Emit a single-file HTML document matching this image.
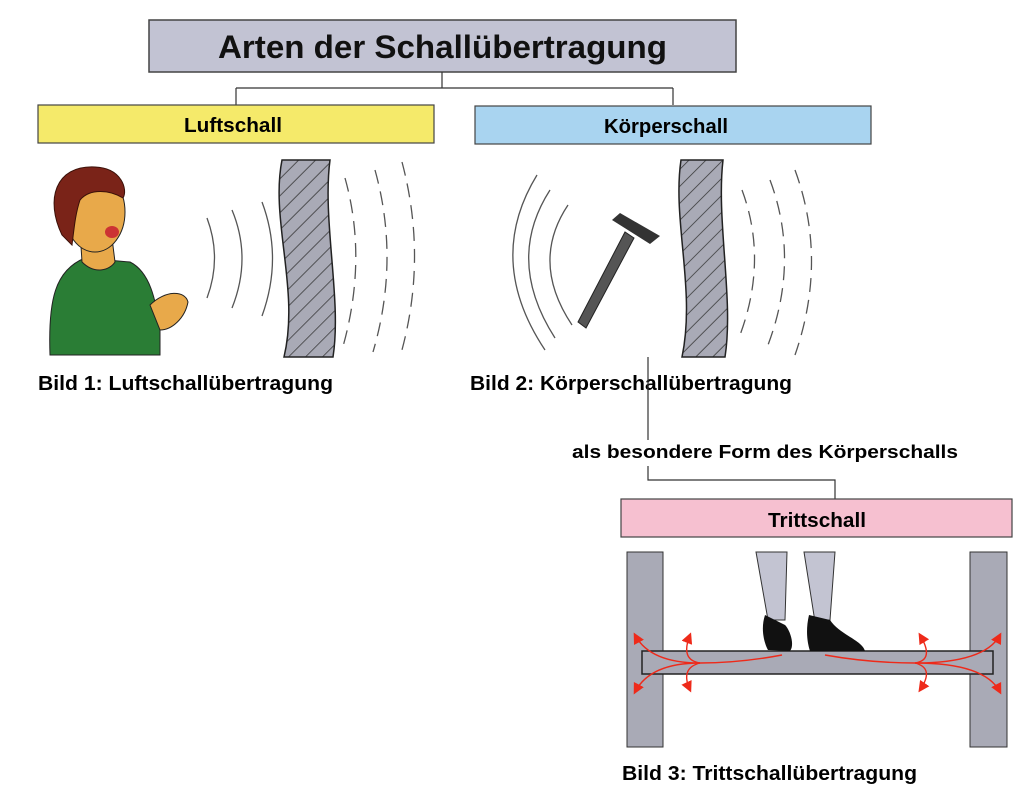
<!DOCTYPE html><html><head><meta charset="utf-8"><style>
body{margin:0;background:#fff}
svg{display:block;font-family:"Liberation Sans",Arial,sans-serif}
</style></head><body>
<svg width="1032" height="791" viewBox="0 0 1032 791" xmlns="http://www.w3.org/2000/svg">
<defs>
<pattern id="h" width="12" height="12" patternUnits="userSpaceOnUse" patternTransform="rotate(-45)">
<rect width="12" height="12" fill="#a9aab6"/><line x1="0" y1="0" x2="12" y2="0" stroke="#333" stroke-width="1.5"/></pattern>
<marker id="ar" markerWidth="8" markerHeight="8" refX="6" refY="4" orient="auto"><path d="M0,0 L8,4 L0,8 Z" fill="#ee2a1a"/></marker>
</defs>
<!-- title -->
<rect x="149" y="20" width="587" height="52" fill="#c2c3d3" stroke="#444" stroke-width="1.5"/>
<text x="218" y="58" font-size="32" font-weight="bold" textLength="449" lengthAdjust="spacingAndGlyphs" fill="#111">Arten der Schallübertragung</text>
<path d="M442,72 V88 M236,88 H673 M236,88 V105 M673,88 V105" stroke="#333" stroke-width="1.2" fill="none"/>
<rect x="38" y="105" width="396" height="38" fill="#f5ea6a" stroke="#444" stroke-width="1.2"/>
<text x="184" y="132" font-size="20" font-weight="bold" textLength="98" lengthAdjust="spacingAndGlyphs">Luftschall</text>
<rect x="475" y="106" width="396" height="38" fill="#a9d4f0" stroke="#444" stroke-width="1.2"/>
<text x="604" y="133" font-size="20" font-weight="bold" textLength="124" lengthAdjust="spacingAndGlyphs">Körperschall</text>

<!-- person -->
<path d="M50,355 C48,300 55,270 85,258 L130,262 C150,272 156,300 160,330 L160,355 Z" fill="#2a7d35" stroke="#222"/>
<path d="M80,230 L82,262 C95,275 110,270 115,262 L112,238 Z" fill="#e8a94a" stroke="#222"/>
<ellipse cx="95" cy="212" rx="30" ry="40" fill="#e8a94a" stroke="#222"/>
<path d="M62,235 C45,200 55,165 95,167 C122,168 128,190 123,198 C110,190 90,188 80,200 C75,215 74,230 72,245 Z" fill="#7a2318" stroke="#3a1008"/>
<ellipse cx="112" cy="232" rx="7" ry="6" fill="#c33"/>
<path d="M150,305 C165,290 185,290 188,302 C185,318 172,330 160,330 Z" fill="#e8a94a" stroke="#222"/>

<!-- waves 1 -->
<g fill="none" stroke="#555" stroke-width="1.3">
<path d="M207,218 Q222,258 207,298"/><path d="M232,210 Q252,258 232,308"/><path d="M262,202 Q283,258 262,316"/>
<g stroke-dasharray="14,8"><path d="M345,178 Q368,260 342,350"/><path d="M375,170 Q400,260 373,352"/><path d="M402,162 Q428,260 400,357"/></g>
</g>
<path d="M282,160 C270,220 300,290 284,357 L333,357 C342,300 322,220 330,160 Z" fill="url(#h)" stroke="#222" stroke-width="1.5"/>
<text x="38" y="390" font-size="20" font-weight="bold" textLength="295" lengthAdjust="spacingAndGlyphs">Bild 1: Luftschallübertragung</text>

<!-- Bild 2 -->
<g fill="none" stroke="#555" stroke-width="1.3">
<path d="M537,175 Q485,260 545,350"/><path d="M550,190 Q505,260 555,338"/><path d="M568,205 Q530,262 572,325"/>
<g stroke-dasharray="14,8"><path d="M742,190 Q768,260 740,335"/><path d="M770,180 Q800,260 768,345"/><path d="M795,170 Q828,260 795,355"/></g>
</g>
<path d="M681,160 C672,220 696,290 682,357 L725,357 C734,300 716,220 723,160 Z" fill="url(#h)" stroke="#222" stroke-width="1.5"/>
<path d="M586,328 L578,322 L625,232 L634,238 Z" fill="#555" stroke="#222"/>
<path d="M620,213 L612,220 L650,244 L660,236 Z" fill="#333"/>
<text x="470" y="390" font-size="20" font-weight="bold" textLength="322" lengthAdjust="spacingAndGlyphs">Bild 2: Körperschallübertragung</text>
<path d="M648,357 V440 M648,466 V480 H835 V499" stroke="#333" stroke-width="1.2" fill="none"/>
<text x="572" y="458" font-size="18" font-weight="bold" textLength="386" lengthAdjust="spacingAndGlyphs">als besondere Form des Körperschalls</text>

<!-- Bild 3 -->
<rect x="621" y="499" width="391" height="38" fill="#f6c0d0" stroke="#444" stroke-width="1.2"/>
<text x="768" y="527" font-size="20" font-weight="bold" textLength="98" lengthAdjust="spacingAndGlyphs">Trittschall</text>
<rect x="627" y="552" width="36" height="195" fill="#a9aab6" stroke="#333"/>
<rect x="970" y="552" width="37" height="195" fill="#a9aab6" stroke="#333"/>
<rect x="642" y="651" width="351" height="23" fill="#a9aab6" stroke="#222" stroke-width="1.5"/>
<path d="M756,552 L787,552 L785,620 L768,620 Z" fill="#c3c4d2" stroke="#333"/>
<path d="M804,552 L835,552 L830,620 L815,622 Z" fill="#c3c4d2" stroke="#333"/>
<path d="M765,615 C760,630 765,645 768,650 L790,651 C795,645 790,630 785,625 Z" fill="#111"/>
<path d="M809,615 C805,632 808,645 810,651 L865,651 C862,640 840,635 830,620 Z" fill="#111"/>
<g fill="none" stroke="#ee2a1a" stroke-width="1.4" marker-end="url(#ar)">
<path d="M782,655 Q740,663 700,663 Q680,660 690,635"/><path d="M700,663 Q680,668 690,690"/>
<path d="M700,663 Q650,663 635,635"/><path d="M700,663 Q650,663 635,692"/>
<path d="M825,655 Q870,663 915,663 Q935,660 920,635"/><path d="M915,663 Q935,668 920,690"/>
<path d="M915,663 Q985,663 1000,635"/><path d="M915,663 Q985,663 1000,692"/>
</g>
<text x="622" y="780" font-size="20" font-weight="bold" textLength="295" lengthAdjust="spacingAndGlyphs">Bild 3: Trittschallübertragung</text>
</svg>
</body></html>
